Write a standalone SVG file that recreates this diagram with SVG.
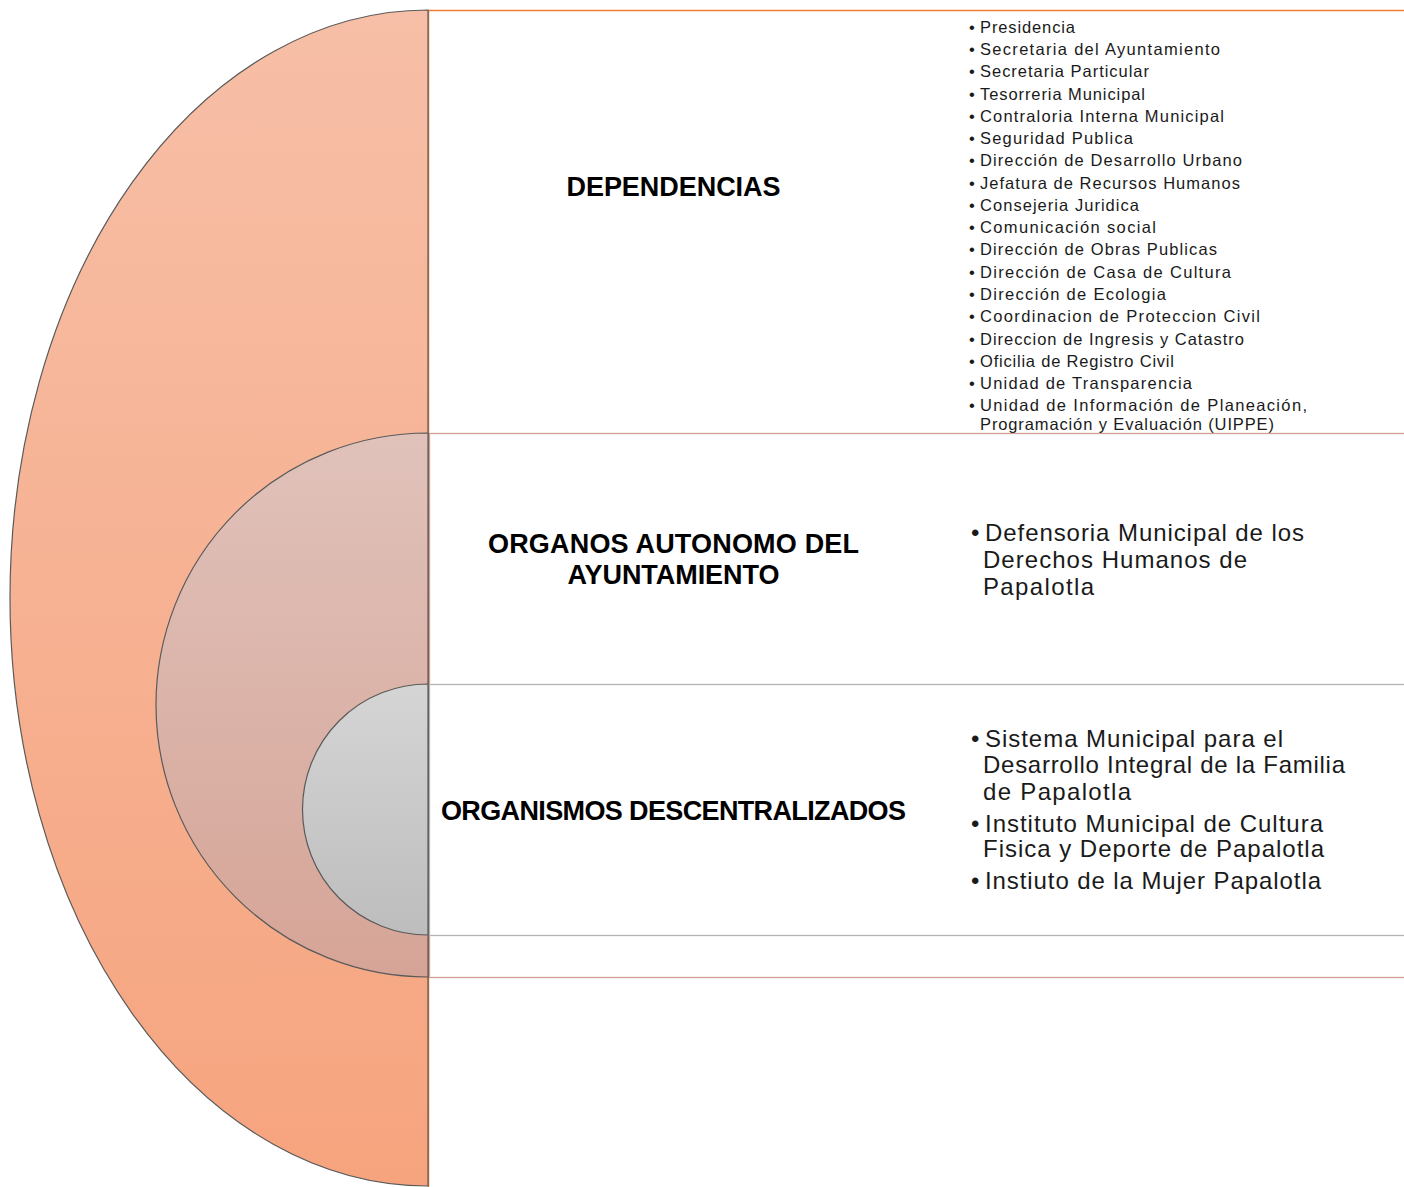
<svg xmlns="http://www.w3.org/2000/svg" width="1404" height="1187" viewBox="0 0 1404 1187">
<defs>
<linearGradient id="gOuter" x1="0" y1="0" x2="0" y2="1">
<stop offset="0" stop-color="#f7bfa7"/>
<stop offset="1" stop-color="#f6a47e"/>
</linearGradient>
<linearGradient id="gMid" x1="0" y1="0" x2="0" y2="1">
<stop offset="0" stop-color="#e0c2ba"/>
<stop offset="1" stop-color="#d6a497"/>
</linearGradient>
<linearGradient id="gInner" x1="0" y1="0" x2="0" y2="1">
<stop offset="0" stop-color="#d5d5d5"/>
<stop offset="1" stop-color="#bdbdbd"/>
</linearGradient>
<style>
.arc{stroke:#5a5a5a;stroke-width:1.2}
.title{font-family:"Liberation Sans",Arial,sans-serif;font-weight:bold;font-size:27px;fill:#000;text-anchor:middle}
.sm{font-family:"Liberation Sans",Arial,sans-serif;font-size:16.5px;fill:#1a1a1a}
.lg{font-family:"Liberation Sans",Arial,sans-serif;font-size:24px;fill:#1a1a1a}
</style>
</defs>
<rect width="1404" height="1187" fill="#ffffff"/>

<g id="dependencias">
<rect x="428.5" y="10.5" width="1100" height="1300" fill="#ffffff" stroke="#ed7d31" stroke-width="1.5"/>
<path class="arc" d="M428 10 A418 588 0 0 0 428 1186 Z" fill="url(#gOuter)"/>
<text class="title" x="673.5" y="196" textLength="214">DEPENDENCIAS</text>
<g class="sm">
<text x="969" y="33">•</text><text x="980" y="33" textLength="95">Presidencia</text>
<text x="969" y="55">•</text><text x="980" y="55" textLength="240">Secretaria del Ayuntamiento</text>
<text x="969" y="77">•</text><text x="980" y="77" textLength="169">Secretaria Particular</text>
<text x="969" y="100">•</text><text x="980" y="100" textLength="165">Tesorreria Municipal</text>
<text x="969" y="122">•</text><text x="980" y="122" textLength="244">Contraloria Interna Municipal</text>
<text x="969" y="144">•</text><text x="980" y="144" textLength="153">Seguridad Publica</text>
<text x="969" y="166">•</text><text x="980" y="166" textLength="262">Dirección de Desarrollo Urbano</text>
<text x="969" y="189">•</text><text x="980" y="189" textLength="260">Jefatura de Recursos Humanos</text>
<text x="969" y="211">•</text><text x="980" y="211" textLength="159">Consejeria Juridica</text>
<text x="969" y="233">•</text><text x="980" y="233" textLength="176">Comunicación social</text>
<text x="969" y="255">•</text><text x="980" y="255" textLength="237">Dirección de Obras Publicas</text>
<text x="969" y="278">•</text><text x="980" y="278" textLength="251">Dirección de Casa de Cultura</text>
<text x="969" y="300">•</text><text x="980" y="300" textLength="186">Dirección de Ecologia</text>
<text x="969" y="322">•</text><text x="980" y="322" textLength="280">Coordinacion de Proteccion Civil</text>
<text x="969" y="345">•</text><text x="980" y="345" textLength="264">Direccion de Ingresis y Catastro</text>
<text x="969" y="367">•</text><text x="980" y="367" textLength="194">Oficilia de Registro Civil</text>
<text x="969" y="389">•</text><text x="980" y="389" textLength="212">Unidad de Transparencia</text>
<text x="969" y="411">•</text><text x="980" y="411" textLength="327">Unidad de Información de Planeación,</text>
<text x="980" y="430" textLength="294">Programación y Evaluación (UIPPE)</text>
</g>
</g>

<g id="organos-autonomos">
<rect x="429.5" y="433.5" width="1100" height="544" fill="#ffffff" stroke="#cf9f93" stroke-width="1.3"/>
<path class="arc" d="M428 433 A272 272 0 0 0 428 977 Z" fill="url(#gMid)"/>
<text class="title" x="673.5" y="553" textLength="371">ORGANOS AUTONOMO DEL</text>
<text class="title" x="673.5" y="584" textLength="212">AYUNTAMIENTO</text>
<g class="lg">
<text x="971" y="541">•</text><text x="985" y="541" textLength="319">Defensoria Municipal de los</text>
<text x="983" y="568" textLength="264">Derechos Humanos de</text>
<text x="983" y="595" textLength="111">Papalotla</text>
</g>
</g>

<g id="organismos-descentralizados">
<rect x="429.5" y="684.5" width="1100" height="251" fill="#ffffff" stroke="#b3b3b3" stroke-width="1.3"/>
<path class="arc" d="M428 684 A125.5 125.5 0 0 0 428 935 Z" fill="url(#gInner)"/>
<text class="title" x="673.5" y="820" textLength="465">ORGANISMOS DESCENTRALIZADOS</text>
<g class="lg">
<text x="971" y="747">•</text><text x="985" y="747" textLength="298">Sistema Municipal para el</text>
<text x="983" y="773" textLength="362">Desarrollo Integral de la Familia</text>
<text x="983" y="800" textLength="148">de Papalotla</text>
<text x="971" y="832">•</text><text x="985" y="832" textLength="338">Instituto Municipal de Cultura</text>
<text x="983" y="857" textLength="341">Fisica y Deporte de Papalotla</text>
<text x="971" y="889">•</text><text x="985" y="889" textLength="336">Instiuto de la Mujer Papalotla</text>
</g>
</g>
</svg>
